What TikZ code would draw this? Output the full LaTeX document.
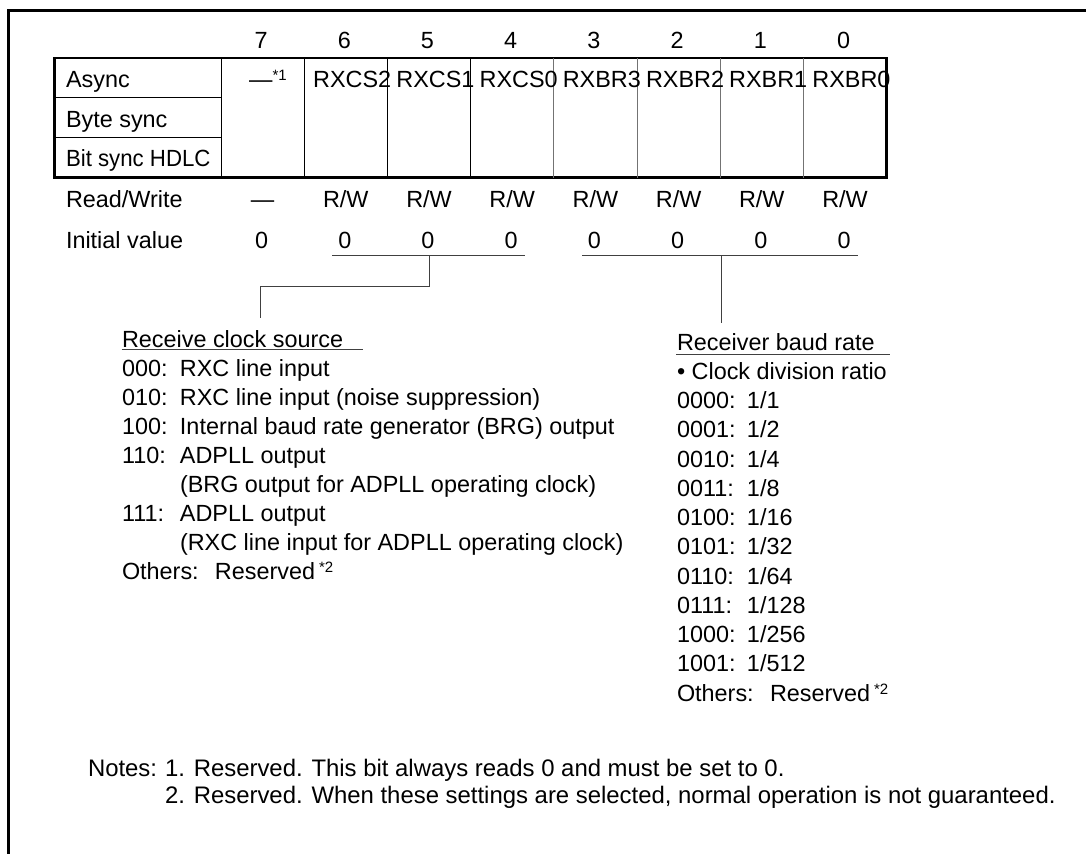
\documentclass[tikz,border=0pt]{standalone}
\usepackage{fontspec}
\setmainfont{Liberation Sans}
\newcommand\supmark[1]{\raisebox{7pt}{\fontsize{15}{15}\selectfont #1}}
\begin{document}
\begin{tikzpicture}[x=1pt,y=-1pt,
  every node/.style={inner sep=0pt, outer sep=0pt, font=\fontsize{23.4}{28}\selectfont},
  lbl/.style={anchor=base west},
  ctr/.style={anchor=base},
  notefont/.style={font=\fontsize{23.9}{28}\selectfont},
  frameline/.style={line width=3pt, black, line join=miter},
  border/.style={line width=2.3pt, black},
  gridk/.style={line width=1pt, black},
  gridg/.style={line width=1pt, black!55},
  leader/.style={line width=1pt, black!75},
]
\useasboundingbox (0,0) rectangle (1086,854);
% outer frame (top and left)
\draw[frameline] (1086,10.5) -- (8.5,10.5) -- (8.5,854);

% register table
\draw[border] (54.5,58) rectangle (886.6,177.5);
\draw[gridk] (54.5,97.7) -- (221,97.7);
\draw[gridk] (54.5,137.3) -- (221,137.3);
\draw[gridk] (221,58) -- (221,177.5);
\draw[gridk] (304.2,58) -- (304.2,177.5);
\draw[gridk] (387.4,58) -- (387.4,177.5);
\draw[gridk] (470.6,58) -- (470.6,177.5);
\draw[gridg] (553.8,58) -- (553.8,177.5);
\draw[gridg] (637,58) -- (637,177.5);
\draw[gridg] (720.2,58) -- (720.2,177.5);
\draw[gridg] (803.4,58) -- (803.4,177.5);

% row labels
\node[lbl] (async) at (66,87) {Async};
\node[lbl] (byte) at (66,127.5) {Byte sync};
\node[lbl] (bitsync) at (66,166.7) {\scalebox{0.95}[1]{Bit sync HDLC}};
\node[lbl] (rwlab) at (66,207) {Read/Write};
\node[lbl] (ivlab) at (66,248) {Initial value};

% bit numbers, R/W, initial values
\foreach \b in {0,...,7}{
  \pgfmathsetmacro\cx{221+(7-\b)*83.2+41.6}
  \node[ctr] (n\b) at (\cx-1.5,48) {\b};
  \node[ctr] (iv\b) at (\cx-1,248) {0};
}
\foreach \b in {0,...,6}{
  \pgfmathsetmacro\cx{221+(7-\b)*83.2+41.6}
  \node[ctr] (rw\b) at (\cx,207) {R/W};
}
\node[ctr] (rw7) at (262.6,207) {---};

% bit names
\node[ctr] (f7) at (268,87) {---\supmark{*1}};
\foreach \b/\t in {6/RXCS2,5/RXCS1,4/RXCS0,3/RXBR3,2/RXBR2,1/RXBR1,0/RXBR0}{
  \pgfmathsetmacro\lx{221+(7-\b)*83.2+9}
  \node[lbl] (f\b) at (\lx,87) {\t};
}

% leaders
\coordinate (La) at (332,255.7);
\coordinate (Lz) at (525,255.7);
\coordinate (Lm) at (429.3,255.7);
\coordinate (Lk) at (429.3,286);
\coordinate (Lj) at (260,286);
\coordinate (Lb) at (260,318);
\draw[leader] (La) -- (Lz);
\draw[leader] (Lm) -- (Lk) -- (Lj) -- (Lb);
\coordinate (Ra) at (582,255.7);
\coordinate (Rz) at (858,255.7);
\coordinate (Rm) at (721,255.7);
\coordinate (Rb) at (721,323);
\draw[leader] (Ra) -- (Rz);
\draw[leader] (Rm) -- (Rb);

% receive clock source block
\node[lbl] (cshead) at (122,347) {Receive clock source};
\draw[leader] (121.7,349.5) -- (363,349.5);
\node[lbl] (cs1) at (122,376) {\makebox[58pt][l]{000:}RXC line input};
\node[lbl] (cs2) at (122,405) {\makebox[58pt][l]{010:}RXC line input (noise suppression)};
\node[lbl] (cs3) at (122,434) {\makebox[58pt][l]{100:}Internal baud rate generator (BRG) output};
\node[lbl] (cs4) at (122,463) {\makebox[58pt][l]{110:}ADPLL output};
\node[lbl] (cs5) at (180,492) {(BRG output for ADPLL operating clock)};
\node[lbl] (cs6) at (122,521) {\makebox[58pt][l]{111:}ADPLL output};
\node[lbl] (cs7) at (180,550) {(RXC line input for ADPLL operating clock)};
\node[lbl] (cs8) at (122,579) {\makebox[93pt][l]{Others:}Reserved\,\supmark{*2}};

% receiver baud rate block
\node[lbl] (brhead) at (677,350) {Receiver baud rate};
\draw[leader] (676,354) -- (890,354);
\node[lbl] (br0) at (677,379.3) {\textbullet\ Clock division ratio};
\node[lbl] (br1) at (677,408.5) {\makebox[70pt][l]{0000:}1/1};
\node[lbl] (br2) at (677,437.8) {\makebox[70pt][l]{0001:}1/2};
\node[lbl] (br3) at (677,467) {\makebox[70pt][l]{0010:}1/4};
\node[lbl] (br4) at (677,496.2) {\makebox[70pt][l]{0011:}1/8};
\node[lbl] (br5) at (677,525.5) {\makebox[70pt][l]{0100:}1/16};
\node[lbl] (br6) at (677,554.7) {\makebox[70pt][l]{0101:}1/32};
\node[lbl] (br7) at (677,584) {\makebox[70pt][l]{0110:}1/64};
\node[lbl] (br8) at (677,613.2) {\makebox[70pt][l]{0111:}1/128};
\node[lbl] (br9) at (677,642.5) {\makebox[70pt][l]{1000:}1/256};
\node[lbl] (br10) at (677,671.7) {\makebox[70pt][l]{1001:}1/512};
\node[lbl] (br11) at (677,701) {\makebox[93pt][l]{Others:}Reserved\,\supmark{*2}};

% notes
\node[lbl, notefont] (notes) at (88,776) {Notes:};
\node[lbl, notefont] (note1) at (165,776) {1. Reserved. This bit always reads 0 and must be set to 0.};
\node[lbl, notefont] (note2) at (165,803) {2. Reserved. When these settings are selected, normal operation is not guaranteed.};
\end{tikzpicture}
\end{document}
